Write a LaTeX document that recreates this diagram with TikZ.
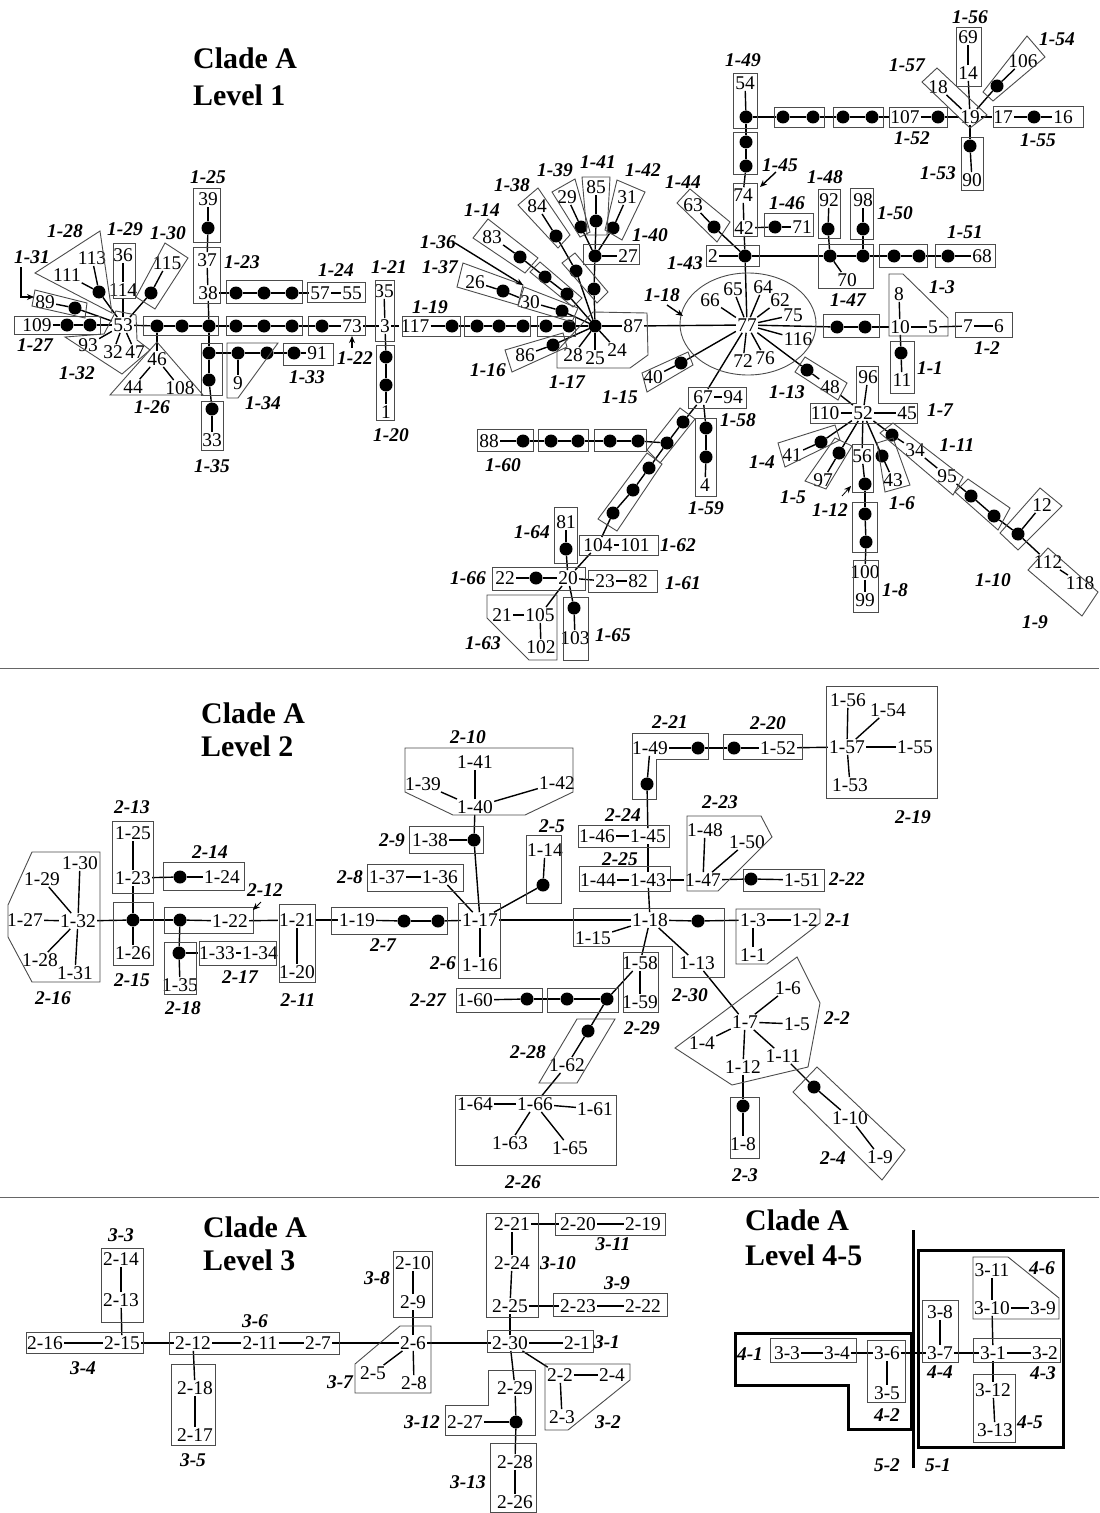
\documentclass[tikz,border=0pt]{standalone}
\usepackage{fontspec}
\setmainfont{Liberation Serif}
\usetikzlibrary{arrows.meta}
\newcommand\numf{\fontsize{19.5}{21}\selectfont}
\newcommand\labf{\fontsize{19.5}{21}\selectfont\bfseries\itshape}
\newcommand\titf{\fontsize{30}{34}\selectfont\bfseries}
\tikzset{
  num/.style={font=\numf, inner sep=1.2bp},
  blob/.style={circle, fill=black, inner sep=0pt, minimum size=13bp},
  lab/.style={font=\labf, inner sep=0pt},
  ttl/.style={font=\titf, inner sep=0pt, anchor=west},
  bx/.style={draw=black!70, line width=0.9bp},
  tbx/.style={draw=black, line width=3bp},
  ln/.style={draw=black, line width=1.4bp},
  arr/.style={draw=black, line width=1.4bp, -{Stealth[length=7bp,width=6bp]}},
}
\newcommand\numnode[3]{\node[num] (#1) at (#2) {#3};}
\newcommand\dotnode[2]{\node[blob] (#1) at (#2) {};}
\newcommand\labnode[3]{\node[lab] (#1) at (#2) {#3};}
\begin{document}
\begin{tikzpicture}[x=1bp,y=-1bp]
\fill[white] (0,0) rectangle (1099,1513);
\useasboundingbox (0,0) rectangle (1099,1513);

% ================= LEVEL 1 =================
\node[ttl] (t1a) at (193,58) {Clade A};
\node[ttl] (t1b) at (193,95) {Level 1};

% --- left cluster around 53
\numnode{a109}{37,325}{109}
\dotnode{p1}{67,325}
\dotnode{p2}{90,325}
\numnode{a53}{123,325}{53}
\numnode{a89}{45,302}{89}
\dotnode{p3}{75,308}
\numnode{a111}{67,275}{111}
\numnode{a113}{92,258}{113}
\dotnode{p4}{99,292}
\numnode{a36}{123,255}{36}
\numnode{a114}{123,290}{114}
\numnode{a115}{167,263}{115}
\dotnode{p5}{151,293}
\numnode{a93}{88,345}{93}
\numnode{a32}{113,352}{32}
\numnode{a47}{135,352}{47}
\dotnode{p6}{157,326}
\dotnode{p7}{182,326}
\dotnode{p8}{209,326}
\numnode{a46}{157,359}{46}
\numnode{a44}{133,387}{44}
\numnode{a108}{180,388}{108}
\numnode{a38}{208,293}{38}
\numnode{a37}{207,260}{37}
\dotnode{p9}{208,228}
\numnode{a39}{208,199}{39}
\dotnode{p10}{236,293}
\dotnode{p11}{264,293}
\dotnode{p12}{292,293}
\numnode{a57}{320,293}{57}
\numnode{a55}{352,293}{55}
\dotnode{p13}{209,353}
\dotnode{p14}{209,380}
\dotnode{p15}{212,409}
\numnode{a33}{212,440}{33}
\dotnode{p16}{238,353}
\numnode{a9}{238,383}{9}
\dotnode{p17}{267,353}
\dotnode{p18}{294,353}
\numnode{a91}{317,353}{91}
\dotnode{p19}{236,326}
\dotnode{p20}{264,326}
\dotnode{p21}{292,326}
\dotnode{p22}{322,326}
\numnode{a73}{352,326}{73}
\numnode{a3}{385,326}{3}
\numnode{a35}{384,291}{35}
\dotnode{p23}{386,357}
\dotnode{p24}{386,385}
\numnode{a1}{386,412}{1}
\numnode{a117}{415,326}{117}
\dotnode{p25}{452,326}
\dotnode{p26}{477,326}
\dotnode{p27}{499,326}
\dotnode{p28}{523,326}
\dotnode{p29}{546,326}
\dotnode{p30}{569,326}
\dotnode{hub}{595,326}
\numnode{a87}{633,326}{87}
\numnode{a28}{573,355}{28}
\numnode{a25}{595,358}{25}
\numnode{a24}{617,350}{24}
\numnode{a86}{525,355}{86}
\dotnode{p32}{553,345}
\numnode{a30}{530,302}{30}
\dotnode{p33}{562,311}
\numnode{a26}{475,282}{26}
\dotnode{p34}{503,291}
\numnode{a83}{492,237}{83}
\dotnode{p35}{520,257}
\dotnode{p36}{545,277}
\dotnode{p37}{567,294}
\numnode{a84}{537,206}{84}
\dotnode{p38}{556,236}
\dotnode{p39}{576,271}
\dotnode{p40}{594,289}
\dotnode{p41}{595,256}
\numnode{a27}{628,256}{27}
\numnode{a29}{567,197}{29}
\dotnode{p42}{581,227}
\numnode{a85}{596,187}{85}
\dotnode{p43}{596,221}
\numnode{a31}{627,197}{31}
\dotnode{p44}{613,228}

% --- right cluster around 77
\numnode{a40}{653,377}{40}
\dotnode{p45}{681,363}
\numnode{a77}{747,325}{77}
\numnode{a66}{710,300}{66}
\numnode{a65}{733,289}{65}
\numnode{a64}{763,287}{64}
\numnode{a62}{780,300}{62}
\numnode{a75}{793,315}{75}
\numnode{a116}{798,339}{116}
\numnode{a72}{743,361}{72}
\numnode{a76}{765,358}{76}
\dotnode{p46}{745,256}
\numnode{a2}{713,256}{2}
\numnode{a63}{693,205}{63}
\dotnode{p47}{714,227}
\numnode{a42}{744,228}{42}
\numnode{a74}{743,195}{74}
\dotnode{p48}{775,227}
\numnode{a71}{802,227}{71}
\dotnode{p49}{746,166}
\dotnode{p50}{746,142}
\dotnode{p51}{746,117}
\numnode{a54}{745,83}{54}
\dotnode{p52}{783,117}
\dotnode{p53}{813,117}
\dotnode{p54}{843,117}
\dotnode{p55}{872,117}
\numnode{a107}{905,117}{107}
\dotnode{p56}{938,117}
\numnode{a19}{970,117}{19}
\numnode{a18}{938,87}{18}
\numnode{a69}{968,37}{69}
\numnode{a14}{968,73}{14}
\numnode{a106}{1023,61}{106}
\dotnode{p57}{997,86}
\numnode{a17}{1003,117}{17}
\dotnode{p58}{1034,117}
\numnode{a16}{1063,117}{16}
\dotnode{p59}{970,146}
\numnode{a90}{972,180}{90}
\dotnode{p60}{830,256}
\dotnode{p61}{863,256}
\numnode{a70}{847,280}{70}
\numnode{a92}{829,200}{92}
\dotnode{p62}{828,229}
\numnode{a98}{863,200}{98}
\dotnode{p63}{863,229}
\dotnode{p64}{894,256}
\dotnode{p65}{919,256}
\dotnode{p66}{948,256}
\numnode{a68}{982,256}{68}
\dotnode{p67}{837,327}
\dotnode{p68}{865,327}
\numnode{a10}{900,327}{10}
\numnode{a8}{899,294}{8}
\numnode{a5}{933,327}{5}
\numnode{a7}{968,326}{7}
\numnode{a6}{999,326}{6}
\dotnode{p69}{901,353}
\numnode{a11}{902,380}{11}
\dotnode{p70}{807,370}
\numnode{a48}{830,387}{48}
\numnode{a52}{863,413}{52}
\numnode{a110}{825,413}{110}
\numnode{a45}{907,413}{45}
\numnode{a96}{868,377}{96}
\numnode{a41}{792,455}{41}
\dotnode{p71}{821,442}
\numnode{a97}{823,480}{97}
\dotnode{p72}{839,453}
\numnode{a56}{862,456}{56}
\dotnode{p73}{865,484}
\dotnode{p74}{865,514}
\dotnode{p75}{866,542}
\numnode{a100}{865,572}{100}
\numnode{a99}{865,600}{99}
\numnode{a43}{893,480}{43}
\dotnode{p76}{882,456}
\dotnode{p77}{892,435}
\numnode{a34}{915,450}{34}
\numnode{a95}{947,476}{95}
\dotnode{p78}{971,496}
\dotnode{p79}{994,516}
\dotnode{p80}{1018,534}
\numnode{a12}{1042,505}{12}
\numnode{a112}{1048,562}{112}
\numnode{a118}{1080,583}{118}
\numnode{a67}{703,397}{67}
\numnode{a94}{733,397}{94}
\dotnode{p81}{706,428}
\dotnode{p82}{706,457}
\numnode{a4}{705,485}{4}
\dotnode{p83}{683,422}
\dotnode{p84}{667,443}
\dotnode{p85}{649,468}
\dotnode{p86}{633,490}
\dotnode{p87}{613,513}
\dotnode{p88}{638,441}
\dotnode{p89}{610,441}
\dotnode{p90}{578,441}
\dotnode{p91}{551,441}
\dotnode{p92}{523,441}
\numnode{a88}{489,441}{88}
\numnode{a104}{598,545}{104}
\numnode{a101}{635,545}{101}
\numnode{a81}{566,522}{81}
\dotnode{p93}{566,549}
\numnode{a20}{568,578}{20}
\numnode{a22}{505,578}{22}
\dotnode{p94}{536,578}
\numnode{a23}{605,581}{23}
\numnode{a82}{638,581}{82}
\numnode{a21}{502,615}{21}
\numnode{a105}{540,615}{105}
\numnode{a102}{541,647}{102}
\dotnode{p95}{574,608}
\numnode{a103}{575,638}{103}

\foreach \u/\v in {a109/p1,p1/p2,p2/a53,a89/p3,p3/a53,a111/p4,a113/p4,p4/a53,
  a36/a114,a114/a53,a115/p5,p5/a53,a53/a93,a53/a32,a53/a47,a53/p6,p6/p7,p7/p8,
  p6/a46,a46/a44,a46/a108,p8/a38,a38/a37,a37/p9,p9/a39,a38/p10,p10/p11,p11/p12,
  p12/a57,a57/a55,p8/p13,p13/p14,p14/p15,p15/a33,p13/p16,p16/a9,p16/p17,p17/p18,
  p18/a91,p8/p19,p19/p20,p20/p21,p21/p22,p22/a73,a73/a3,a3/a35,a3/p23,p23/p24,
  p24/a1,a3/a117,a117/p25,p25/p26,p26/p27,p27/p28,p28/p29,p29/p30,p30/hub,
  hub/a87,a87/a77,hub/a28,hub/a25,hub/a24,hub/p32,p32/a86,hub/p33,p33/a30,
  a30/p34,p34/a26,hub/p37,p37/p36,p36/p35,p35/a83,hub/p39,p39/p38,p38/a84,
  hub/p40,p40/p41,p41/a27,p41/p42,p42/a29,p41/p43,p43/a85,p41/p44,p44/a31}
  \draw[ln] (\u) -- (\v);

\foreach \u/\v in {a77/a66,a77/a65,a77/a64,a77/a62,a77/a75,a77/a116,a77/a72,a77/a76,
  a77/p45,p45/a40,a77/p46,p46/a2,p46/p47,p47/a63,p46/a42,a42/a74,a42/p48,p48/a71,
  a74/p49,p49/p50,p50/p51,p51/a54,p51/p52,p52/p53,p53/p54,p54/p55,p55/a107,
  a107/p56,p56/a19,a19/a18,a19/a14,a14/a69,a19/p57,p57/a106,a19/a17,a17/p58,
  p58/a16,a19/p59,p59/a90,p46/p60,p60/p61,p60/a70,p60/p62,p62/a92,p61/p63,
  p63/a98,p61/p64,p64/p65,p65/p66,p66/a68,a77/p67,p67/p68,p68/a10,a10/a8,
  a10/a5,a5/a7,a7/a6,a10/p69,p69/a11,a77/p70,p70/a48,a48/a52,a52/a110,a52/a45,
  a52/a96,a52/p71,p71/a41,a52/p72,p72/a97,a52/a56,a56/p73,p73/p74,p74/p75,
  p75/a100,a100/a99,a52/p76,p76/a43,a52/p77,p77/a34,a34/a95,a95/p78,p78/p79,
  p79/p80,p80/a12,p80/a112,a112/a118,a77/a67,a67/a94,a67/p81,p81/p82,p82/a4,
  a67/p83,p83/p84,p84/p85,p85/p86,p86/p87,p87/a104,a104/a101,a104/a20,
  p84/p88,p88/p89,p89/p90,p90/p91,p91/p92,p92/a88,a20/p93,p93/a81,a20/p94,
  p94/a22,a20/a23,a23/a82,a20/a105,a105/a21,a105/a102,a20/p95,p95/a103}
  \draw[ln] (\u) -- (\v);

% --- level 1 groupings
\draw[bx] (14,316) rectangle (100,334);
\draw[bx] (35,290) -- (87,303) -- (85,318) -- (32,306) -- cycle;
\draw[bx] (35,273) -- (100,231) -- (112,313) -- cycle;
\draw[bx] (113,243) rectangle (135,298);
\draw[bx] (136,297) -- (165,243) -- (188,258) -- (155,309) -- cycle;
\draw[bx] (65,337) -- (104,334) -- (116,311) -- (136,315) -- (137,340) -- (150,350) -- (122,374) -- cycle;
\draw[bx] (143,316) rectangle (218,335);
\draw[bx] (110,395) -- (157,342) -- (203,395) -- cycle;
\draw[bx] (193,247) rectangle (220,303);
\draw[bx] (193,188) rectangle (220,242);
\draw[bx] (226,280) rectangle (302,303);
\draw[bx] (307,282) rectangle (365,302);
\draw[bx] (201,343) rectangle (222,395);
\draw[bx] (201,401) rectangle (223,450);
\draw[bx] (227,343) -- (278,343) -- (238,398) -- (227,398) -- cycle;
\draw[bx] (283,343) rectangle (333,365);
\draw[bx] (226,316) rectangle (302,335);
\draw[bx] (308,316) rectangle (365,335);
\draw[bx] (375,280) rectangle (394,341);
\draw[bx] (376,345) rectangle (394,420);
\draw[bx] (402,316) rectangle (460,336);
\draw[bx] (464,316) rectangle (530,336);
\draw[bx] (537,316) rectangle (575,336);
\draw[bx] (593,312) -- (647,313) -- (648,355) -- (630,368) -- (557,368) -- (557,351) -- cycle;
\draw[bx] (505,350) -- (563,333) -- (567,347) -- (512,372) -- cycle;
\draw[bx] (457,287) -- (463,263) -- (523,285) -- (518,305) -- cycle;
\draw[bx] (518,306) -- (524,287) -- (578,308) -- (572,322) -- cycle;
\draw[bx] (473,238) -- (488,219) -- (538,258) -- (525,273) -- cycle;
\draw[bx] (530,272) -- (540,262) -- (582,298) -- (573,307) -- cycle;
\draw[bx] (518,205) -- (538,188) -- (570,235) -- (558,248) -- cycle;
\draw[bx] (562,263) -- (575,253) -- (608,292) -- (597,303) -- cycle;
\draw[bx] (552,192) -- (575,179) -- (590,232) -- (580,237) -- cycle;
\draw[bx] (582,177) -- (610,177) -- (607,235) -- (587,235) -- cycle;
\draw[bx] (617,180) -- (645,192) -- (622,240) -- (605,230) -- cycle;
\draw[bx] (583,244) rectangle (639,264);
\draw[bx] (642,373) -- (688,352) -- (693,365) -- (647,392) -- cycle;
\draw[bx] (748,324) ellipse [x radius=68, y radius=51];
\draw[bx] (706,245) rectangle (759,266);
\draw[bx] (677,203) -- (690,189) -- (730,222) -- (717,242) -- cycle;
\draw[bx] (733,183) rectangle (757,236);
\draw[bx] (764,213) rectangle (813,236);
\draw[bx] (733,132) rectangle (757,174);
\draw[bx] (733,73) rectangle (757,128);
\draw[bx] (774,107) rectangle (824,127);
\draw[bx] (833,107) rectangle (883,127);
\draw[bx] (889,107) rectangle (947,127);
\draw[bx] (922,82) -- (937,68) -- (987,115) -- (970,128) -- cycle;
\draw[bx] (956,27) rectangle (981,86);
\draw[bx] (983,92) -- (1027,36) -- (1045,57) -- (993,101) -- cycle;
\draw[bx] (993,106) rectangle (1083,127);
\draw[bx] (961,137) rectangle (983,190);
\draw[bx] (818,189) rectangle (840,238);
\draw[bx] (850,188) rectangle (873,239);
\draw[bx] (818,244) rectangle (873,288);
\draw[bx] (879,244) rectangle (927,267);
\draw[bx] (935,244) rectangle (995,267);
\draw[bx] (823,314) rectangle (879,337);
\draw[bx] (889,274) -- (903,274) -- (948,318) -- (948,336) -- (889,336) -- cycle;
\draw[bx] (955,312) rectangle (1012,337);
\draw[bx] (890,341) rectangle (914,393);
\draw[bx] (795,372) -- (805,357) -- (847,383) -- (838,400) -- cycle;
\draw[bx] (810,403) -- (856,403) -- (856,366) -- (878,366) -- (878,403) -- (917,403) -- (917,423) -- (810,423) -- cycle;
\draw[bx] (778,443) -- (835,425) -- (840,440) -- (785,467) -- cycle;
\draw[bx] (805,481) -- (835,438) -- (852,446) -- (826,489) -- cycle;
\draw[bx] (852,444) rectangle (873,492);
\draw[bx] (852,502) rectangle (877,552);
\draw[bx] (853,560) rectangle (878,612);
\draw[bx] (877,443) -- (893,438) -- (910,485) -- (885,492) -- cycle;
\draw[bx] (880,433) -- (893,423) -- (963,477) -- (953,495) -- cycle;
\draw[bx] (955,492) -- (968,479) -- (1010,508) -- (998,530) -- cycle;
\draw[bx] (1000,533) -- (1040,488) -- (1062,506) -- (1018,550) -- cycle;
\draw[bx] (1028,570) -- (1048,548) -- (1098,592) -- (1082,616) -- cycle;
\draw[bx] (688,387) rectangle (746,408);
\draw[bx] (695,418) rectangle (716,496);
\draw[bx] (647,450) -- (680,408) -- (695,419) -- (660,463) -- cycle;
\draw[bx] (598,519) -- (647,453) -- (662,464) -- (617,531) -- cycle;
\draw[bx] (477,429) rectangle (533,451);
\draw[bx] (538,429) rectangle (588,451);
\draw[bx] (594,429) rectangle (646,451);
\draw[bx] (579,535) rectangle (658,555);
\draw[bx] (554,507) rectangle (577,563);
\draw[bx] (492,567) rectangle (585,590);
\draw[bx] (588,570) rectangle (657,592);
\draw[bx] (487,595) -- (557,595) -- (557,660) -- (529,660) -- (487,618) -- cycle;
\draw[bx] (563,597) rectangle (588,660);

% --- level 1 group labels
\labnode{l1x25}{208,177}{1-25}
\labnode{l1x28}{65,231}{1-28}
\labnode{l1x29}{125,229}{1-29}
\labnode{l1x30}{168,233}{1-30}
\labnode{l1x31}{32,257}{1-31}
\labnode{l1x23}{242,262}{1-23}
\labnode{l1x24}{336,270}{1-24}
\labnode{l1x21}{389,267}{1-21}
\labnode{l1x27}{35,345}{1-27}
\labnode{l1x32}{77,373}{1-32}
\labnode{l1x26}{152,407}{1-26}
\labnode{l1x34}{263,403}{1-34}
\labnode{l1x33}{307,377}{1-33}
\labnode{l1x35}{212,466}{1-35}
\labnode{l1x22}{355,358}{1-22}
\labnode{l1x20}{391,435}{1-20}
\labnode{l1x19}{430,307}{1-19}
\labnode{l1x16}{488,370}{1-16}
\labnode{l1x17}{567,382}{1-17}
\labnode{l1x15}{620,397}{1-15}
\labnode{l1x14}{482,210}{1-14}
\labnode{l1x36}{438,242}{1-36}
\labnode{l1x37}{440,267}{1-37}
\labnode{l1x38}{512,185}{1-38}
\labnode{l1x39}{555,170}{1-39}
\labnode{l1x41}{598,162}{1-41}
\labnode{l1x42}{643,170}{1-42}
\labnode{l1x40}{650,235}{1-40}
\labnode{l1x18}{662,295}{1-18}
\labnode{l1x44}{683,182}{1-44}
\labnode{l1x43}{685,263}{1-43}
\labnode{l1x45}{780,165}{1-45}
\labnode{l1x46}{787,203}{1-46}
\labnode{l1x49}{743,60}{1-49}
\labnode{l1x48}{825,177}{1-48}
\labnode{l1x50}{895,213}{1-50}
\labnode{l1x47}{848,300}{1-47}
\labnode{l1x51}{965,232}{1-51}
\labnode{l1x52}{912,138}{1-52}
\labnode{l1x57}{907,65}{1-57}
\labnode{l1x56}{970,17}{1-56}
\labnode{l1x54}{1057,39}{1-54}
\labnode{l1x55}{1038,140}{1-55}
\labnode{l1x53}{938,173}{1-53}
\labnode{l1x3}{942,287}{1-3}
\labnode{l1x2}{987,348}{1-2}
\labnode{l1x1}{930,368}{1-1}
\labnode{l1x13}{787,392}{1-13}
\labnode{l1x7}{940,410}{1-7}
\labnode{l1x4}{762,462}{1-4}
\labnode{l1x5}{793,497}{1-5}
\labnode{l1x12}{830,510}{1-12}
\labnode{l1x6}{902,503}{1-6}
\labnode{l1x11}{957,445}{1-11}
\labnode{l1x10}{993,580}{1-10}
\labnode{l1x9}{1035,622}{1-9}
\labnode{l1x8}{895,590}{1-8}
\labnode{l1x58}{738,420}{1-58}
\labnode{l1x59}{706,508}{1-59}
\labnode{l1x60}{503,465}{1-60}
\labnode{l1x62}{678,545}{1-62}
\labnode{l1x64}{532,532}{1-64}
\labnode{l1x66}{468,578}{1-66}
\labnode{l1x61}{683,583}{1-61}
\labnode{l1x63}{483,643}{1-63}
\labnode{l1x65}{613,635}{1-65}

% --- pointer arrows
\coordinate (r31a) at (21,267);
\coordinate (r31b) at (34,297);
\draw[arr] (r31a) |- (r31b);
\coordinate (r22a) at (352,348);
\coordinate (r22b) at (352,336);
\draw[arr] (r22a) -- (r22b);
\coordinate (r36a) at (455,243);
\coordinate (r36b) at (523,285);
\draw[arr] (r36a) -- (r36b);
\coordinate (r18a) at (667,305);
\coordinate (r18b) at (683,316);
\draw[arr] (r18a) -- (r18b);
\coordinate (r45a) at (776,172);
\coordinate (r45b) at (760,187);
\draw[arr] (r45a) -- (r45b);
\coordinate (r12a) at (842,496);
\coordinate (r12b) at (851,486);
\draw[arr, line width=0.8bp] (r12a) -- (r12b);

\draw[black!60, line width=1bp] (0,668) -- (1099,668);

% ================= LEVEL 2 =================
\node[ttl] (t2a) at (201,713) {Clade A};
\node[ttl] (t2b) at (201,746) {Level 2};

\numnode{b1x27}{25,920}{1-27}
\numnode{b1x32}{78,921}{1-32}
\numnode{b1x29}{42,879}{1-29}
\numnode{b1x30}{80,863}{1-30}
\numnode{b1x28}{40,960}{1-28}
\numnode{b1x31}{75,973}{1-31}
\dotnode{q1}{133,920}
\numnode{b1x26}{133,953}{1-26}
\numnode{b1x23}{133,878}{1-23}
\numnode{b1x25}{133,833}{1-25}
\dotnode{q2}{180,877}
\numnode{b1x24}{222,877}{1-24}
\dotnode{q3}{180,920}
\numnode{b1x22}{230,921}{1-22}
\dotnode{q4}{179,953}
\numnode{b1x35}{180,985}{1-35}
\numnode{b1x33}{217,953}{1-33}
\numnode{b1x34}{260,953}{1-34}
\numnode{b1x21}{297,920}{1-21}
\numnode{b1x20}{297,972}{1-20}
\numnode{b1x19}{357,920}{1-19}
\dotnode{q5}{404,921}
\dotnode{q6}{438,921}
\numnode{b1x17}{480,920}{1-17}
\numnode{b1x16}{480,965}{1-16}
\numnode{b1x37}{387,877}{1-37}
\numnode{b1x36}{440,877}{1-36}
\numnode{b1x38}{430,840}{1-38}
\dotnode{q7}{474,840}
\numnode{b1x40}{475,807}{1-40}
\numnode{b1x41}{475,762}{1-41}
\numnode{b1x39}{423,784}{1-39}
\numnode{b1x42}{557,783}{1-42}
\numnode{b1x14}{545,850}{1-14}
\dotnode{q8}{543,885}
\numnode{b1x18}{650,920}{1-18}
\dotnode{q9}{698,921}
\numnode{b1x3}{753,920}{1-3}
\numnode{b1x2}{805,920}{1-2}
\numnode{b1x1}{753,955}{1-1}
\numnode{b1x15}{593,938}{1-15}
\numnode{b1x13}{697,963}{1-13}
\numnode{b1x58}{640,963}{1-58}
\numnode{b1x59}{640,1002}{1-59}
\dotnode{q10}{607,999}
\dotnode{q11}{567,999}
\dotnode{q12}{527,999}
\numnode{b1x60}{475,1000}{1-60}
\dotnode{q13}{588,1031}
\numnode{b1x62}{567,1065}{1-62}
\numnode{b1x66}{535,1104}{1-66}
\numnode{b1x64}{475,1104}{1-64}
\numnode{b1x61}{595,1109}{1-61}
\numnode{b1x63}{510,1143}{1-63}
\numnode{b1x65}{570,1148}{1-65}
\numnode{b1x7}{745,1022}{1-7}
\numnode{b1x6}{788,988}{1-6}
\numnode{b1x5}{797,1024}{1-5}
\numnode{b1x4}{702,1043}{1-4}
\numnode{b1x11}{783,1056}{1-11}
\numnode{b1x12}{743,1067}{1-12}
\dotnode{q14}{743,1106}
\numnode{b1x8}{743,1144}{1-8}
\dotnode{q15}{814,1087}
\numnode{b1x10}{850,1118}{1-10}
\numnode{b1x9}{880,1157}{1-9}
\numnode{b1x43}{648,880}{1-43}
\numnode{b1x44}{598,880}{1-44}
\numnode{b1x47}{703,880}{1-47}
\numnode{b1x48}{705,830}{1-48}
\numnode{b1x50}{747,842}{1-50}
\dotnode{q16}{751,879}
\numnode{b1x51}{802,880}{1-51}
\numnode{b1x45}{648,836}{1-45}
\numnode{b1x46}{597,836}{1-46}
\dotnode{q17}{647,784}
\numnode{b1x49}{650,748}{1-49}
\dotnode{q18}{698,748}
\dotnode{q19}{734,748}
\numnode{b1x52}{778,748}{1-52}
\numnode{b1x57}{847,747}{1-57}
\numnode{b1x56}{848,700}{1-56}
\numnode{b1x54}{888,710}{1-54}
\numnode{b1x55}{915,747}{1-55}
\numnode{b1x53}{850,785}{1-53}

\foreach \u/\v in {b1x27/b1x32,b1x29/b1x32,b1x30/b1x32,b1x28/b1x32,b1x31/b1x32,
  b1x32/q1,q1/b1x26,q1/b1x23,b1x23/b1x25,b1x23/q2,q2/b1x24,q1/q3,q3/b1x22,
  q3/q4,q4/b1x35,q4/b1x33,b1x33/b1x34,b1x22/b1x21,b1x21/b1x20,b1x21/b1x19,
  b1x19/q5,q5/q6,q6/b1x17,b1x17/b1x16,b1x17/b1x36,b1x36/b1x37,b1x17/q7,
  q7/b1x38,q7/b1x40,b1x40/b1x41,b1x40/b1x39,b1x40/b1x42,b1x17/q8,q8/b1x14,
  b1x17/b1x18,b1x18/b1x15,b1x18/b1x13,b1x18/q9,q9/b1x3,b1x3/b1x2,b1x3/b1x1,
  b1x18/b1x58,b1x58/b1x59,b1x58/q10,q10/q11,q11/q12,q12/b1x60,q10/q13,
  q13/b1x62,b1x62/b1x66,b1x66/b1x64,b1x66/b1x61,b1x66/b1x63,b1x66/b1x65,
  b1x13/b1x7,b1x7/b1x6,b1x7/b1x5,b1x7/b1x4,b1x7/b1x11,b1x7/b1x12,b1x12/q14,
  q14/b1x8,b1x11/q15,q15/b1x10,b1x10/b1x9,b1x18/b1x43,b1x43/b1x44,b1x43/b1x47,
  b1x47/b1x48,b1x47/b1x50,b1x47/q16,q16/b1x51,b1x43/b1x45,b1x45/b1x46,
  b1x45/q17,q17/b1x49,b1x49/q18,q18/q19,q19/b1x52,b1x52/b1x57,b1x57/b1x56,
  b1x57/b1x54,b1x57/b1x55,b1x57/b1x53}
  \draw[ln] (\u) -- (\v);

\draw[bx] (32,852) -- (100,852) -- (100,982) -- (32,982) -- (8,937) -- (8,905) -- cycle;
\draw[bx] (113,902) rectangle (153,965);
\draw[bx] (112,821) rectangle (153,893);
\draw[bx] (163,862) rectangle (244,890);
\draw[bx] (164,907) rectangle (253,933);
\draw[bx] (164,942) rectangle (196,994);
\draw[bx] (199,941) rectangle (276,965);
\draw[bx] (279,904) rectangle (315,982);
\draw[bx] (331,907) rectangle (447,934);
\draw[bx] (458,903) rectangle (500,978);
\draw[bx] (367,864) rectangle (463,891);
\draw[bx] (409,826) rectangle (483,853);
\draw[bx] (405,748) -- (573,748) -- (573,792) -- (525,815) -- (453,815) -- (405,792) -- cycle;
\draw[bx] (526,835) rectangle (561,903);
\draw[bx] (573,908) -- (724,908) -- (724,977) -- (672,977) -- (672,946) -- (573,946) -- cycle;
\draw[bx] (736,909) -- (820,909) -- (820,923) -- (767,964) -- (736,964) -- cycle;
\draw[bx] (623,952) rectangle (658,1012);
\draw[bx] (456,988) rectangle (542,1012);
\draw[bx] (547,988) rectangle (618,1012);
\draw[bx] (577,1019) -- (615,1019) -- (577,1083) -- (539,1083) -- cycle;
\draw[bx] (455,1095) rectangle (616,1165);
\draw[bx] (797,957) -- (820,1003) -- (808,1067) -- (732,1085) -- (675,1048) -- cycle;
\draw[bx] (730,1097) rectangle (759,1158);
\draw[bx] (793,1092) -- (817,1067) -- (905,1150) -- (882,1180) -- cycle;
\draw[bx] (579,866) rectangle (670,891);
\draw[bx] (687,816) -- (761,816) -- (772,837) -- (718,891) -- (687,891) -- cycle;
\draw[bx] (743,869) rectangle (824,891);
\draw[bx] (578,825) rectangle (669,847);
\draw[bx] (632,733) -- (708,733) -- (708,759) -- (656,759) -- (656,799) -- (632,799) -- cycle;
\draw[bx] (723,734) rectangle (802,759);
\draw[bx] (826,686) rectangle (937,798);

\labnode{l2x16}{53,998}{2-16}
\labnode{l2x15}{132,980}{2-15}
\labnode{l2x13}{132,807}{2-13}
\labnode{l2x14}{210,852}{2-14}
\labnode{l2x12}{265,890}{2-12}
\labnode{l2x18}{183,1008}{2-18}
\labnode{l2x17}{240,977}{2-17}
\labnode{l2x11}{298,1000}{2-11}
\labnode{l2x7}{383,945}{2-7}
\labnode{l2x6}{443,963}{2-6}
\labnode{l2x8}{350,877}{2-8}
\labnode{l2x9}{392,840}{2-9}
\labnode{l2x10}{468,737}{2-10}
\labnode{l2x5}{552,826}{2-5}
\labnode{l2x30}{690,995}{2-30}
\labnode{l2x1}{838,920}{2-1}
\labnode{l2x29}{642,1028}{2-29}
\labnode{l2x27}{428,1000}{2-27}
\labnode{l2x28}{528,1052}{2-28}
\labnode{l2x26}{523,1182}{2-26}
\labnode{l2x2}{837,1018}{2-2}
\labnode{l2x3}{745,1175}{2-3}
\labnode{l2x4}{833,1158}{2-4}
\labnode{l2x25}{620,859}{2-25}
\labnode{l2x23}{720,802}{2-23}
\labnode{l2x22}{847,879}{2-22}
\labnode{l2x24}{623,815}{2-24}
\labnode{l2x21}{670,722}{2-21}
\labnode{l2x20}{768,723}{2-20}
\labnode{l2x19}{913,817}{2-19}

\coordinate (r212a) at (261,902);
\coordinate (r212b) at (253,910);
\draw[arr, line width=0.9bp] (r212a) -- (r212b);

\draw[black!60, line width=1bp] (0,1197) -- (1099,1197);

% ================= LEVEL 3 =================
\node[ttl] (t3a) at (203,1227) {Clade A};
\node[ttl] (t3b) at (203,1260) {Level 3};

\numnode{c2x16}{45,1343}{2-16}
\numnode{c2x15}{122,1343}{2-15}
\numnode{c2x14}{121,1259}{2-14}
\numnode{c2x13}{121,1300}{2-13}
\numnode{c2x12}{193,1343}{2-12}
\numnode{c2x11}{260,1343}{2-11}
\numnode{c2x7}{318,1343}{2-7}
\numnode{c2x18}{195,1388}{2-18}
\numnode{c2x17}{195,1435}{2-17}
\numnode{c2x6}{413,1343}{2-6}
\numnode{c2x10}{413,1263}{2-10}
\numnode{c2x9}{413,1302}{2-9}
\numnode{c2x5}{373,1373}{2-5}
\numnode{c2x8}{414,1383}{2-8}
\numnode{c2x30}{510,1343}{2-30}
\numnode{c2x1}{577,1343}{2-1}
\numnode{c2x21}{512,1224}{2-21}
\numnode{c2x24}{512,1263}{2-24}
\numnode{c2x25}{510,1306}{2-25}
\numnode{c2x20}{578,1224}{2-20}
\numnode{c2x19}{643,1224}{2-19}
\numnode{c2x23}{578,1306}{2-23}
\numnode{c2x22}{643,1306}{2-22}
\numnode{c2x2}{560,1375}{2-2}
\numnode{c2x4}{612,1375}{2-4}
\numnode{c2x3}{562,1417}{2-3}
\numnode{c2x29}{515,1388}{2-29}
\dotnode{r1}{516,1422}
\numnode{c2x27}{465,1422}{2-27}
\numnode{c2x28}{515,1462}{2-28}
\numnode{c2x26}{515,1502}{2-26}

\foreach \u/\v in {c2x16/c2x15,c2x15/c2x13,c2x13/c2x14,c2x15/c2x12,c2x12/c2x11,
  c2x11/c2x7,c2x12/c2x18,c2x18/c2x17,c2x7/c2x6,c2x6/c2x9,c2x9/c2x10,c2x6/c2x5,
  c2x6/c2x8,c2x6/c2x30,c2x30/c2x1,c2x30/c2x25,c2x25/c2x24,c2x24/c2x21,
  c2x21/c2x20,c2x20/c2x19,c2x25/c2x23,c2x23/c2x22,c2x30/c2x2,c2x2/c2x4,
  c2x2/c2x3,c2x30/c2x29,c2x29/r1,r1/c2x27,r1/c2x28,c2x28/c2x26}
  \draw[ln] (\u) -- (\v);

\draw[bx] (26,1332) rectangle (143,1353);
\draw[bx] (101,1248) rectangle (143,1322);
\draw[bx] (169,1332) rectangle (339,1354);
\draw[bx] (171,1364) rectangle (215,1445);
\draw[bx] (393,1251) rectangle (432,1317);
\draw[bx] (400,1326) -- (431,1326) -- (431,1393) -- (355,1393) -- (355,1364) -- cycle;
\draw[bx] (487,1330) rectangle (593,1352);
\draw[bx] (486,1213) rectangle (538,1317);
\draw[bx] (555,1213) rectangle (665,1235);
\draw[bx] (553,1293) rectangle (667,1316);
\draw[bx] (545,1364) -- (630,1364) -- (630,1380) -- (568,1430) -- (545,1430) -- cycle;
\draw[bx] (488,1370) -- (535,1370) -- (535,1435) -- (445,1435) -- (445,1405) -- (488,1405) -- cycle;
\draw[bx] (490,1443) rectangle (536,1512);

\labnode{l3x4}{83,1368}{3-4}
\labnode{l3x3}{121,1235}{3-3}
\labnode{l3x6}{255,1321}{3-6}
\labnode{l3x5}{193,1460}{3-5}
\labnode{l3x8}{377,1278}{3-8}
\labnode{l3x7}{340,1382}{3-7}
\labnode{l3x1}{607,1342}{3-1}
\labnode{l3x10}{558,1263}{3-10}
\labnode{l3x11}{613,1244}{3-11}
\labnode{l3x9}{617,1283}{3-9}
\labnode{l3x2}{608,1422}{3-2}
\labnode{l3x12}{422,1422}{3-12}
\labnode{l3x13}{468,1482}{3-13}

% ================= LEVEL 4-5 =================
\node[ttl] (t4a) at (745,1220) {Clade A};
\node[ttl] (t4b) at (745,1255) {Level 4-5};

\numnode{e3x3}{787,1353}{3-3}
\numnode{e3x4}{837,1353}{3-4}
\numnode{e3x6}{887,1353}{3-6}
\numnode{e3x5}{887,1393}{3-5}
\numnode{e3x7}{940,1353}{3-7}
\numnode{e3x8}{940,1312}{3-8}
\numnode{e3x1}{993,1353}{3-1}
\numnode{e3x2}{1045,1353}{3-2}
\numnode{e3x11}{992,1270}{3-11}
\numnode{e3x10}{992,1308}{3-10}
\numnode{e3x9}{1043,1308}{3-9}
\numnode{e3x12}{993,1390}{3-12}
\numnode{e3x13}{995,1430}{3-13}

\foreach \u/\v in {e3x3/e3x4,e3x4/e3x6,e3x6/e3x5,e3x6/e3x7,e3x8/e3x7,e3x7/e3x1,
  e3x1/e3x2,e3x1/e3x10,e3x11/e3x10,e3x10/e3x9,e3x1/e3x12,e3x12/e3x13}
  \draw[ln] (\u) -- (\v);

\draw[tbx] (913,1230) -- (913,1468);
\draw[tbx] (918,1250) rectangle (1063,1447);
\draw[tbx] (735,1333) -- (911,1333) -- (911,1429) -- (848,1429) -- (848,1385) -- (735,1385) -- cycle;
\draw[bx] (770,1338) rectangle (856,1362);
\draw[bx] (867,1340) rectangle (905,1402);
\draw[bx] (922,1300) rectangle (958,1362);
\draw[bx] (973,1338) rectangle (1060,1362);
\draw[bx] (973,1257) -- (1008,1257) -- (1059,1298) -- (1059,1319) -- (973,1319) -- cycle;
\draw[bx] (973,1374) rectangle (1015,1442);

\labnode{l4x1}{750,1354}{4-1}
\labnode{l4x2}{887,1415}{4-2}
\labnode{l4x4}{940,1372}{4-4}
\labnode{l4x3}{1043,1373}{4-3}
\labnode{l4x6}{1042,1268}{4-6}
\labnode{l4x5}{1030,1422}{4-5}
\labnode{l5x2}{887,1465}{5-2}
\labnode{l5x1}{938,1465}{5-1}
\end{tikzpicture}
\end{document}
